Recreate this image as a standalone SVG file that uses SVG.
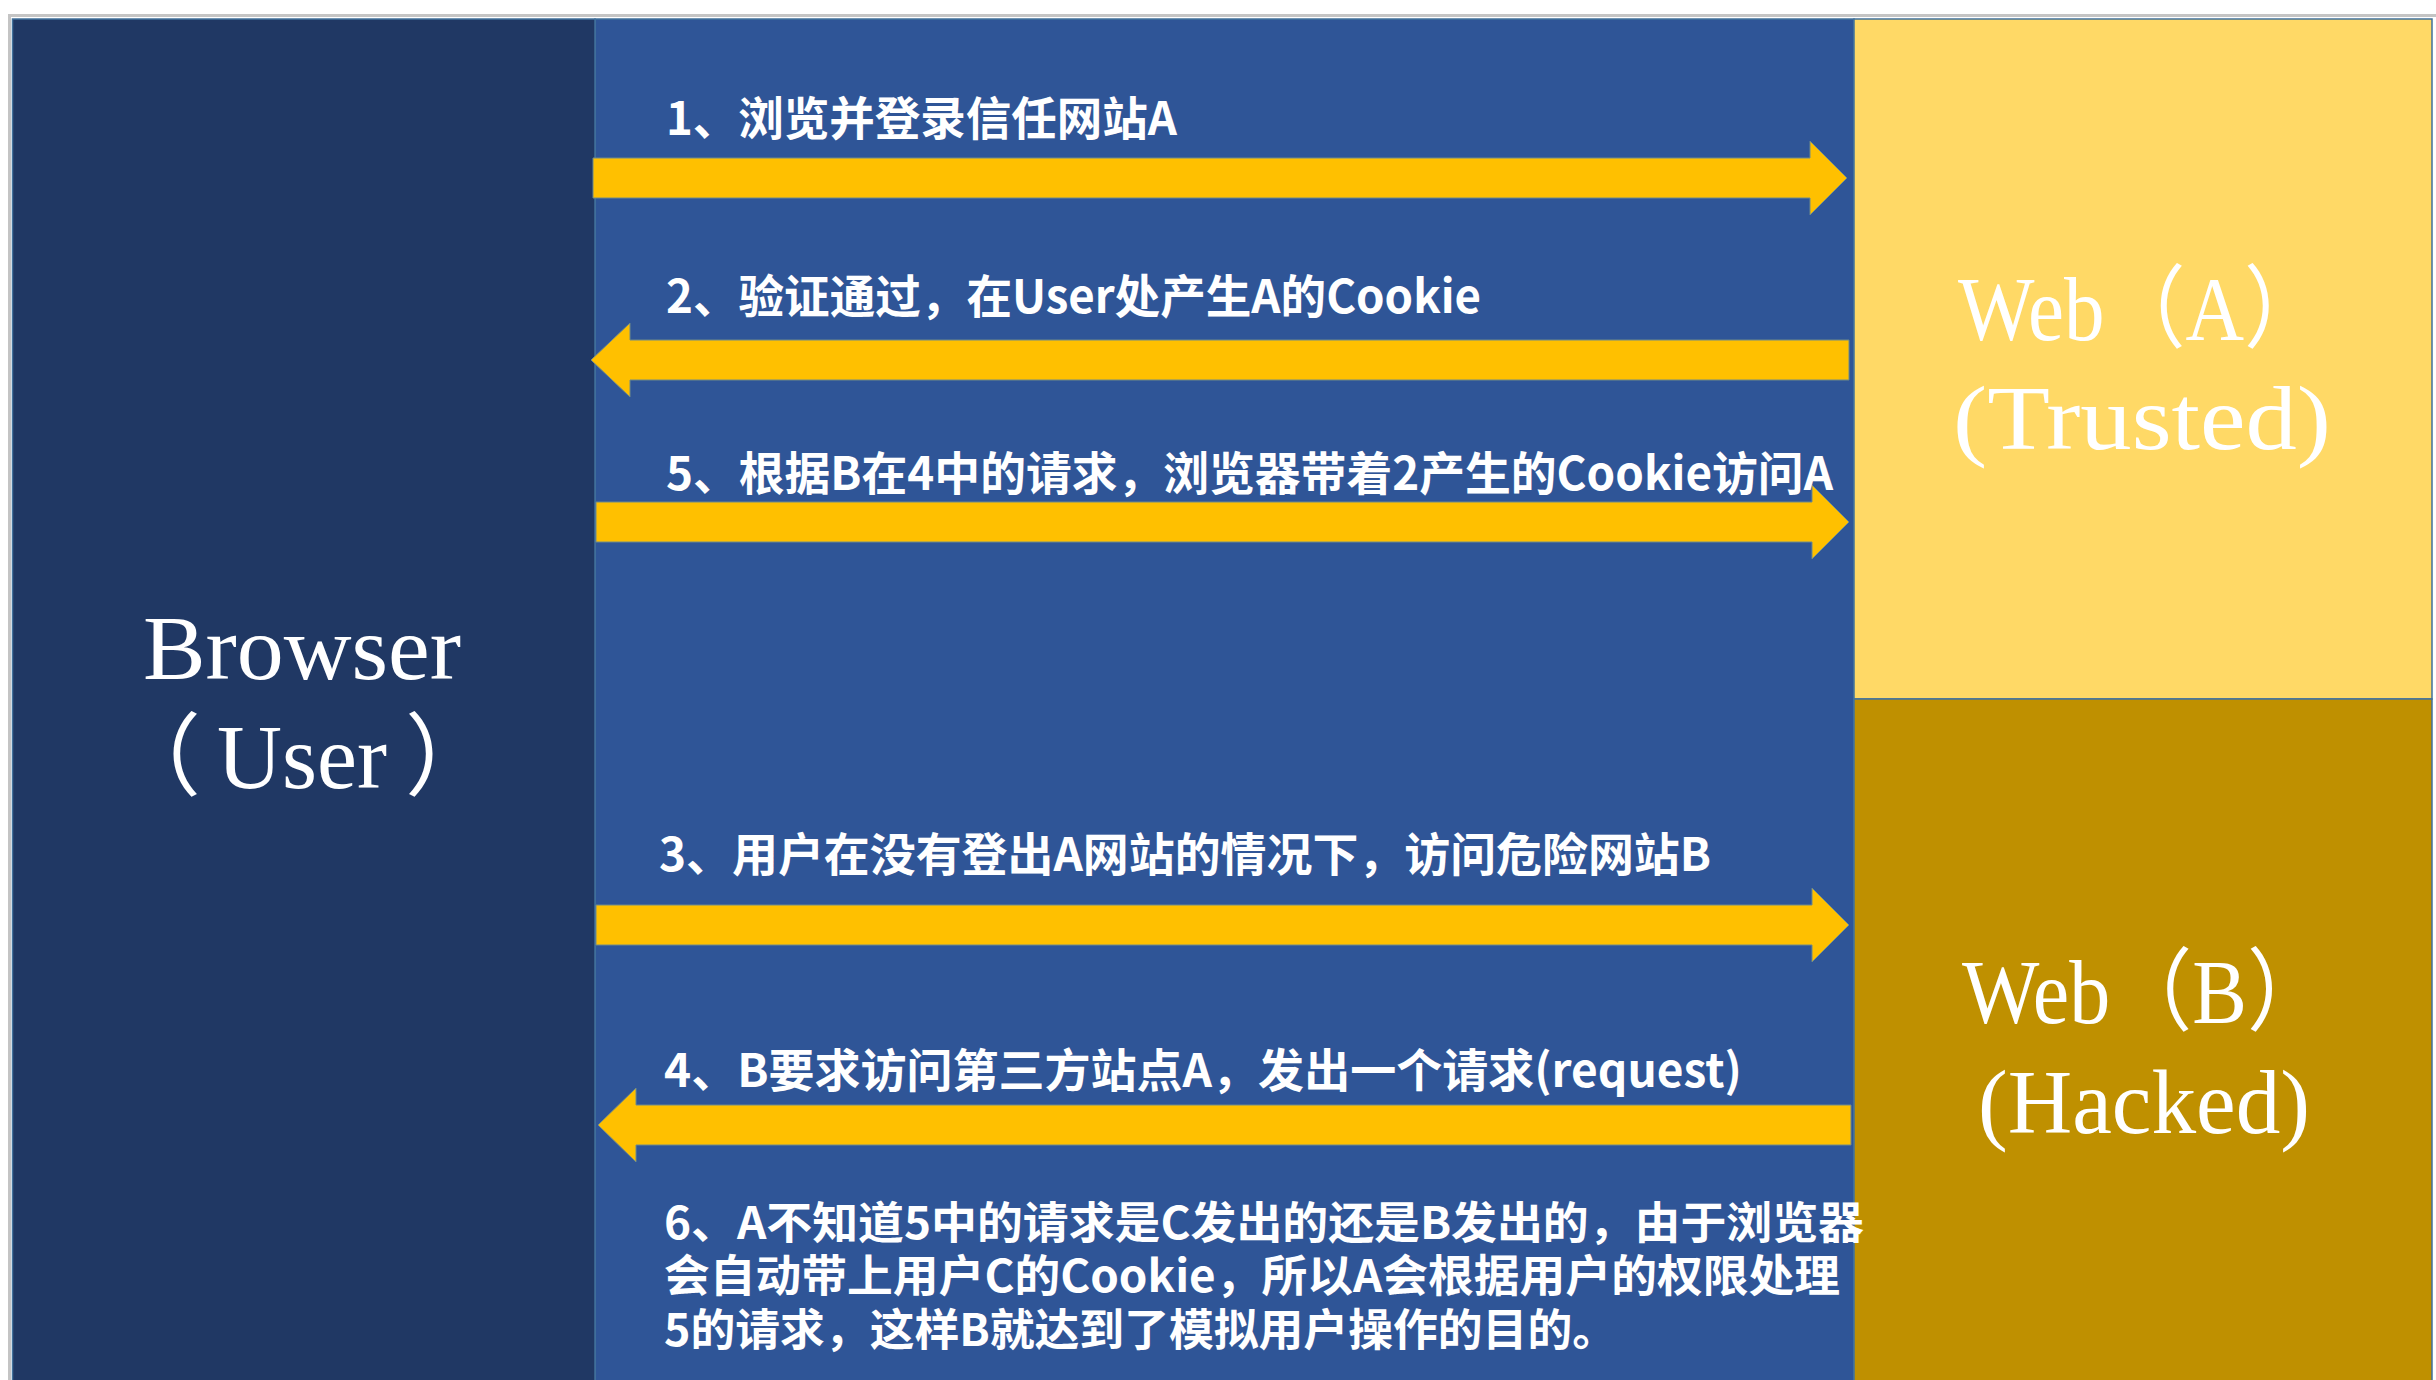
<svg xmlns="http://www.w3.org/2000/svg" width="2436" height="1380" viewBox="0 0 2436 1380">
  <style>
    .panel { stroke: #41719C; stroke-width: 1.5; }
    .big { font-family: "Liberation Serif", "Noto Sans CJK SC", serif; font-size: 90px; fill: #FFFFFF; }
    .lbl { font-family: "Noto Sans CJK SC", "Liberation Sans", sans-serif; font-weight: 700; font-size: 46px; fill: #FFFFFF; }
    .note { font-size: 44px; }
    .arrow { fill: #FFC000; stroke: #6F8A8A; stroke-width: 1; }
  </style>
  <rect x="0" y="0" width="2436" height="1380" fill="#FFFFFF"/>
  <rect x="9.5" y="15.5" width="2430" height="1370" fill="none" stroke="#C4C4C4" stroke-width="3"/>

  <g id="channel">
    <rect class="panel" x="595" y="19" width="1259" height="1365" fill="#2F5597"/>
  </g>

  <g id="browser">
    <rect class="panel" x="12.5" y="19" width="582.5" height="1365" fill="#203864"/>
    <text class="big" x="143" y="679" textLength="318" lengthAdjust="spacingAndGlyphs">Browser</text>
    <text class="big" x="303" y="788" text-anchor="middle">（<tspan dx="16">User</tspan><tspan dx="18">）</tspan></text>
  </g>

  <g id="webA">
    <rect class="panel" x="1854" y="19" width="578" height="680" fill="#FFD966"/>
    <text class="big" x="1958" y="340" textLength="367" lengthAdjust="spacingAndGlyphs">Web（A）</text>
    <text class="big" x="1953" y="449" textLength="378" lengthAdjust="spacingAndGlyphs">(Trusted)</text>
  </g>

  <g id="webB">
    <rect class="panel" x="1854" y="699" width="578" height="685" fill="#BF9000"/>
    <text class="big" x="1962" y="1023" textLength="367" lengthAdjust="spacingAndGlyphs">Web（B）</text>
    <text class="big" x="1978" y="1133" textLength="332" lengthAdjust="spacingAndGlyphs">(Hacked)</text>
  </g>

  <g id="connectors">
    <path class="arrow" d="M593,158 L1810,158 L1810,141 L1847,178 L1810,215 L1810,198 L593,198 Z"/>
    <text class="lbl" x="666" y="135" textLength="511" lengthAdjust="spacingAndGlyphs">1、浏览并登录信任网站A</text>

    <path class="arrow" d="M1849,340 L630,340 L630,323 L591,360 L630,397 L630,380 L1849,380 Z"/>
    <text class="lbl" x="666" y="313" textLength="815" lengthAdjust="spacingAndGlyphs">2、验证通过，在User处产生A的Cookie</text>

    <path class="arrow" d="M596,502 L1812,502 L1812,485 L1849,522 L1812,559 L1812,542 L596,542 Z"/>
    <text class="lbl" x="666" y="490" textLength="1167" lengthAdjust="spacingAndGlyphs">5、根据B在4中的请求，浏览器带着2产生的Cookie访问A</text>

    <path class="arrow" d="M596,905 L1812,905 L1812,888 L1849,925 L1812,962 L1812,945 L596,945 Z"/>
    <text class="lbl" x="659" y="871" textLength="1052" lengthAdjust="spacingAndGlyphs">3、用户在没有登出A网站的情况下，访问危险网站B</text>

    <path class="arrow" d="M1851,1105 L636,1105 L636,1088 L598,1125 L636,1162 L636,1145 L1851,1145 Z"/>
    <text class="lbl" x="664" y="1087" textLength="1078" lengthAdjust="spacingAndGlyphs">4、B要求访问第三方站点A，发出一个请求(request)</text>
  </g>

  <g id="note6">
    <text class="lbl note"><tspan x="664" y="1239" textLength="1200" lengthAdjust="spacingAndGlyphs">6、A不知道5中的请求是C发出的还是B发出的，由于浏览器</tspan><tspan x="664" y="1292" textLength="1176" lengthAdjust="spacingAndGlyphs">会自动带上用户C的Cookie，所以A会根据用户的权限处理</tspan><tspan x="664" y="1346" textLength="953" lengthAdjust="spacingAndGlyphs">5的请求，这样B就达到了模拟用户操作的目的。</tspan></text>
  </g>
</svg>
